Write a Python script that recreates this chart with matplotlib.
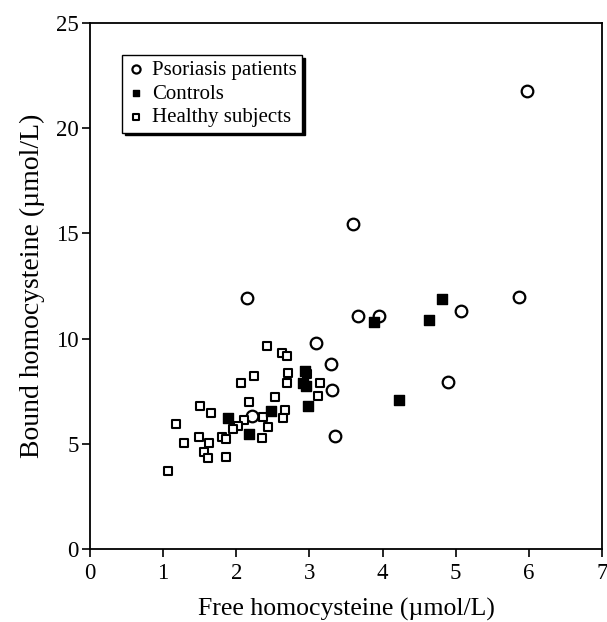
import matplotlib
matplotlib.use("Agg")
import matplotlib.pyplot as plt

plt.rcParams['font.family'] = ['Liberation Serif', 'DejaVu Serif']

# Psoriasis patients (open circles)
pso_x = [5.97, 2.14, 3.59, 5.87, 5.07, 3.66, 3.95, 3.09, 3.30, 3.31, 4.89, 3.35, 2.22]
pso_y = [21.78, 11.94, 15.43, 11.96, 11.31, 11.06, 11.06, 9.78, 8.81, 7.54, 7.92, 5.36, 6.32]

# Controls (filled squares)
ctl_x = [4.81, 4.64, 3.88, 4.22, 2.94, 2.91, 2.95, 2.98, 2.47, 1.88, 2.17]
ctl_y = [11.87, 10.88, 10.80, 7.08, 8.45, 7.90, 7.75, 6.78, 6.56, 6.24, 5.48]

# Healthy subjects (open squares)
hs_x = [2.42, 2.63, 2.69, 2.24, 2.06, 2.71, 2.96, 3.14, 2.69, 2.53, 3.12, 2.17, 2.66,
        2.64, 2.37, 2.11, 2.03, 1.95, 2.44, 1.81, 1.86, 2.35, 1.86, 1.51, 1.66, 1.17,
        1.49, 1.63, 1.29, 1.56, 1.61, 1.07]
hs_y = [9.65, 9.30, 9.16, 8.22, 7.89, 8.37, 8.30, 7.90, 7.89, 7.24, 7.26, 6.97, 6.62,
        6.24, 6.26, 6.12, 5.85, 5.69, 5.78, 5.34, 5.24, 5.28, 4.36, 6.81, 6.46, 5.94,
        5.32, 5.04, 5.04, 4.61, 4.34, 3.69]

x_ticks = [0, 1, 2, 3, 4, 5, 6, 7]
y_ticks = [0, 5, 10, 15, 20, 25]

fig = plt.figure(figsize=(6.07, 6.22), dpi=100)
ax = fig.add_axes([90/607, 73/622, 512/607, 526/622])

ax.scatter(pso_x, pso_y, marker='o', s=70, facecolors='white', edgecolors='black',
           linewidths=1.6, label='Psoriasis patients', zorder=3)
ax.scatter(ctl_x, ctl_y, marker='s', s=42, facecolors='black', edgecolors='black',
           linewidths=1.0, label='Controls', zorder=4)
ax.scatter(hs_x, hs_y, marker='s', s=32, facecolors='white', edgecolors='black',
           linewidths=1.5, label='Healthy subjects', zorder=3)

ax.set_xlim(0, 7)
ax.set_ylim(0, 25)
ax.set_xticks(x_ticks)
ax.set_yticks(y_ticks)
ax.tick_params(direction='out', length=6, width=1.2, labelsize=16.5)
ax.tick_params(axis='x', pad=4)
ax.tick_params(axis='y', pad=2)
for s in ax.spines.values():
    s.set_linewidth(1.3)

ax.set_xlabel('Free homocysteine (\u00b5mol/L)', fontsize=18.5, labelpad=10)
ax.set_ylabel('Bound homocysteine (\u00b5mol/L)', fontsize=20, labelpad=8)

leg = ax.legend(loc='upper left', bbox_to_anchor=(0.062, 0.939), borderaxespad=0,
                fontsize=15, frameon=True, fancybox=False, edgecolor='black',
                shadow={'color': 'black', 'alpha': 1.0},
                handletextpad=0.3, borderpad=0.25, labelspacing=0.2,
                handlelength=0.9, markerscale=0.7)
leg.get_frame().set_linewidth(1.0)

fig.savefig('out.png', dpi=100)
